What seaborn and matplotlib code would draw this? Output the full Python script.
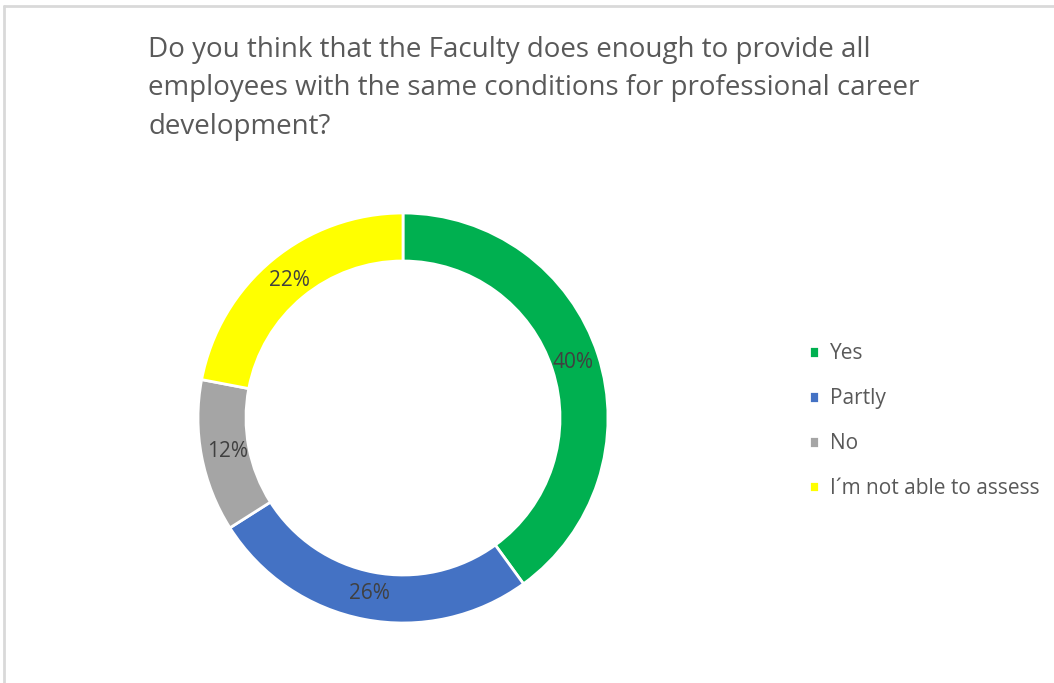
import matplotlib
matplotlib.use("Agg")
import matplotlib.pyplot as plt
from matplotlib.lines import Line2D
import seaborn as sns

# Survey answers and their shares (percent)
answers = ["Yes", "Partly", "No", "I\u00b4m not able to assess"]
shares = [40, 26, 12, 22]
colors = ["#00B050", "#4472C4", "#A5A5A5", "#FFFF00"]
title_lines = [
    "Do you think that the Faculty does enough to provide all",
    "employees with the same conditions for professional career",
    "development?",
]

sns.set_theme(style="white")
plt.rcParams["font.family"] = ["Open Sans", "DejaVu Sans"]

W, H = 1054, 683
fig = plt.figure(figsize=(W / 100, H / 100), dpi=100)
fig.patch.set_facecolor("white")

# Donut axes: centre and outer radius in pixels
cx, cy, r = 403, 418, 205
ax = fig.add_axes([(cx - r) / W, (H - cy - r) / H, 2 * r / W, 2 * r / H])

wedges, _, autotexts = ax.pie(
    shares,
    colors=colors,
    startangle=90,
    counterclock=False,
    radius=1.0,
    autopct=lambda p: f"{p:.0f}%",
    pctdistance=0.87,
    wedgeprops=dict(width=1 - 157 / 205, edgecolor="white", linewidth=2),
    textprops=dict(color="#404040", fontsize=15),
)
ax.set_xlim(-1, 1)
ax.set_ylim(-1, 1)
ax.set_aspect("equal")
ax.axis("off")

# Title
fig.text(148 / W, 1 - 36 / H, "\n".join(title_lines), ha="left", va="top",
         fontsize=20, color="#595959", linespacing=1.5)

# Legend on the right
leg = ax.legend(
    wedges, answers,
    loc="center left",
    bbox_to_anchor=(790 / W, 1 - 421 / H),
    bbox_transform=fig.transFigure,
    frameon=False,
    fontsize=15,
    handlelength=0.5,
    handleheight=0.5,
    handletextpad=0.5,
    labelspacing=1.15,
)
for t in leg.get_texts():
    t.set_color("#595959")

# Thin chart-area frame along top and left edges
fig.add_artist(Line2D([4 / W, 1], [1 - 6 / H, 1 - 6 / H], transform=fig.transFigure,
                      color="#d9d9d9", lw=2))
fig.add_artist(Line2D([4 / W, 4 / W], [0, 1 - 6 / H], transform=fig.transFigure,
                      color="#d9d9d9", lw=2))

fig.savefig("out.png", dpi=100, facecolor="white")
